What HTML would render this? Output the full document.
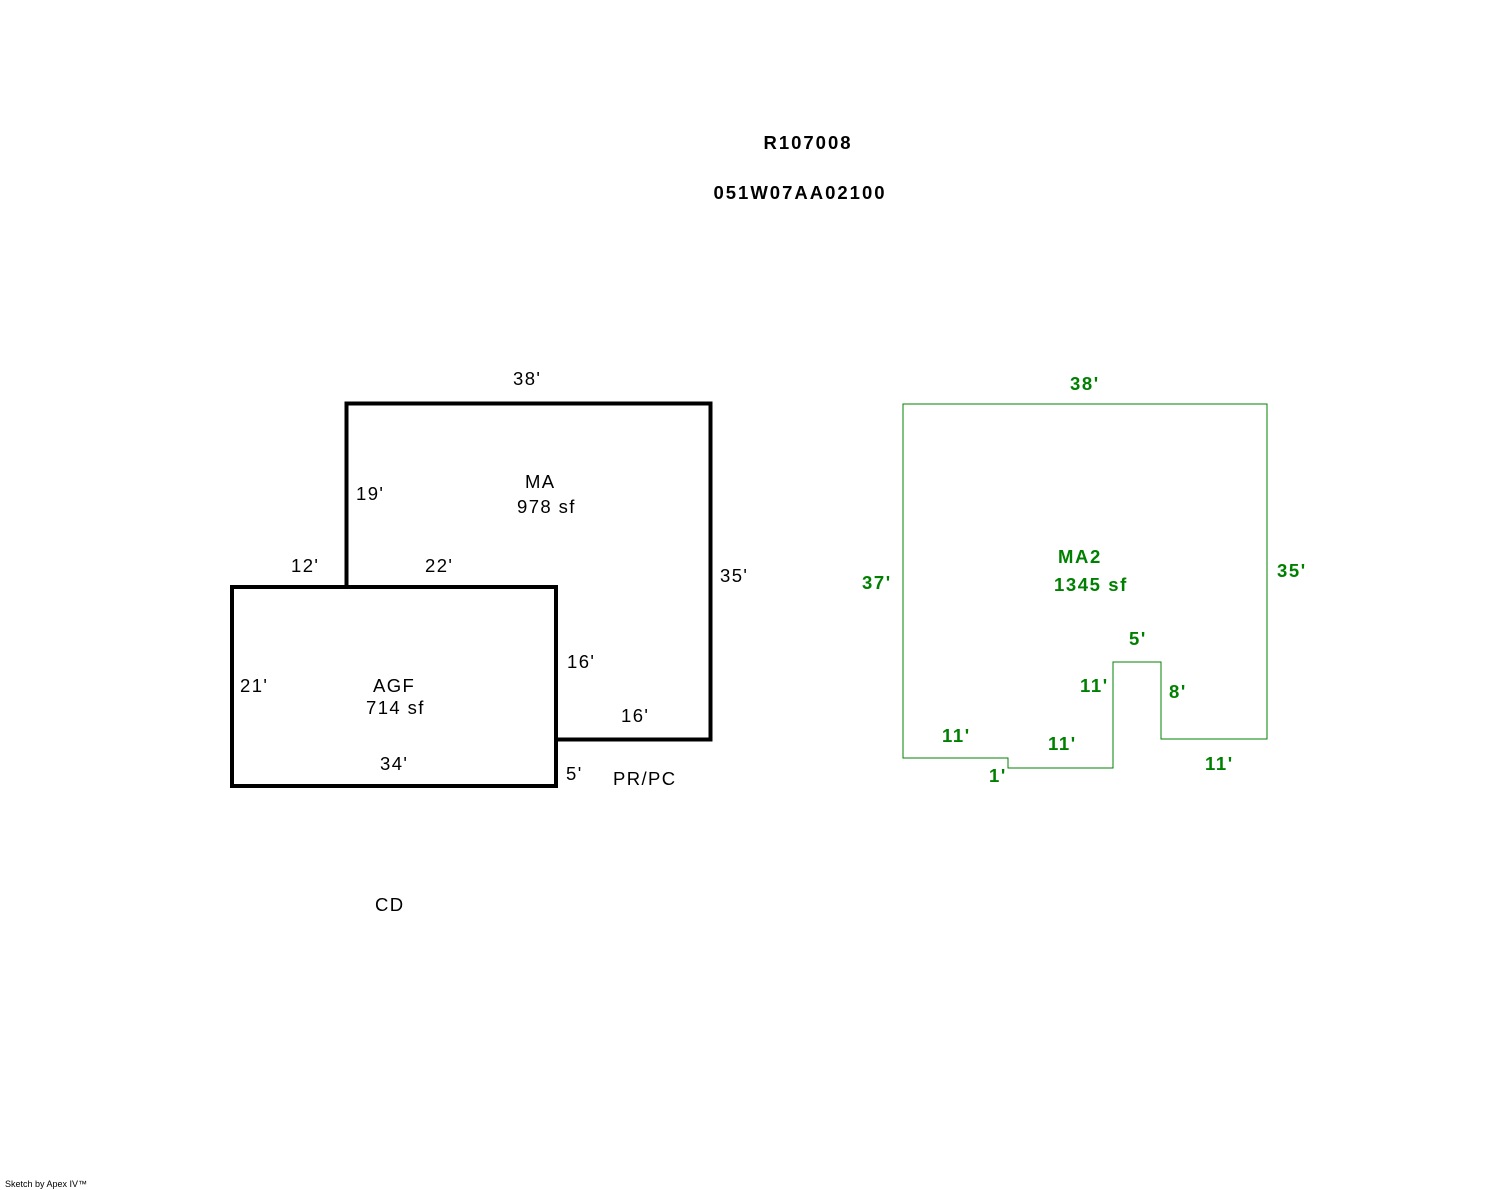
<!DOCTYPE html>
<html><head><style>html,body{margin:0;padding:0;background:#fff;}svg{display:block}</style></head>
<body>
<svg width="1488" height="1190" xmlns="http://www.w3.org/2000/svg" font-family="Liberation Sans, Arial, sans-serif">
<rect width="1488" height="1190" fill="#fff"/>
<g font-weight="bold" font-size="18.5" text-anchor="middle" fill="#000" letter-spacing="2">
<text x="808" y="149">R107008</text>
<text x="800" y="199">051W07AA02100</text>
</g>
<g fill="none" stroke="#000" stroke-width="4">
<rect x="346.5" y="403.5" width="364" height="336"/>
<rect x="232" y="587" width="324" height="199" fill="#fff"/>
</g>
<g font-size="18.5" fill="#000" letter-spacing="1.4">
<text x="513" y="385">38'</text>
<text x="356" y="500">19'</text>
<text x="525" y="488">MA</text>
<text x="517" y="513">978 sf</text>
<text x="291" y="572">12'</text>
<text x="425" y="572">22'</text>
<text x="720" y="582">35'</text>
<text x="567" y="668">16'</text>
<text x="240" y="692">21'</text>
<text x="373" y="692">AGF</text>
<text x="366" y="714">714 sf</text>
<text x="621" y="722">16'</text>
<text x="380" y="770">34'</text>
<text x="566" y="780">5'</text>
<text x="613" y="785">PR/PC</text>
<text x="375" y="911">CD</text>
</g>
<polygon points="903,404 1267,404 1267,739 1161,739 1161,662 1113,662 1113,768 1008,768 1008,758 903,758" fill="none" stroke="#008000" stroke-width="1"/>
<g font-size="18.5" font-weight="bold" fill="#008000" letter-spacing="1.6">
<text x="1070" y="390">38'</text>
<text x="862" y="589">37'</text>
<text x="1058" y="563">MA2</text>
<text x="1054" y="591">1345 sf</text>
<text x="1277" y="577">35'</text>
<text x="1129" y="645">5'</text>
<text x="1080" y="692">11'</text>
<text x="1169" y="698">8'</text>
<text x="942" y="742">11'</text>
<text x="1048" y="750">11'</text>
<text x="989" y="782">1'</text>
<text x="1205" y="770">11'</text>
</g>
<text x="5" y="1187" font-size="9" fill="#000">Sketch by Apex IV™</text>
</svg>
</body></html>
